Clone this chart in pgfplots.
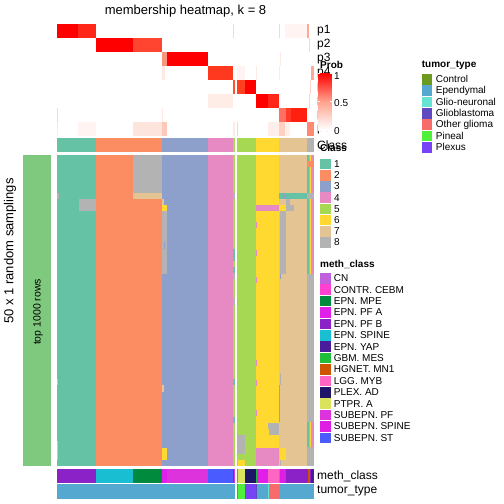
\documentclass[border=0pt]{standalone}
\usepackage{fontspec}
\setmainfont{Liberation Sans}
\usepackage{pgfplots}
\pgfplotsset{compat=1.18}
% class colours
\definecolor{c1}{HTML}{66C2A5}\definecolor{c2}{HTML}{FC8D62}\definecolor{c3}{HTML}{8DA0CB}
\definecolor{c4}{HTML}{E78AC3}\definecolor{c5}{HTML}{A6D854}\definecolor{c6}{HTML}{FFD92F}
\definecolor{c7}{HTML}{E5C494}\definecolor{c8}{HTML}{B3B3B3}\definecolor{lg}{HTML}{7FC97F}
% tumor type
\definecolor{tControl}{HTML}{6B9A1E}\definecolor{tEpen}{HTML}{55A8CF}\definecolor{tGlioN}{HTML}{66E3D2}
\definecolor{tGBM}{HTML}{5F4BBF}\definecolor{tOther}{HTML}{F86B6B}\definecolor{tPineal}{HTML}{50F03A}
\definecolor{tPlexus}{HTML}{7743F5}
% meth class
\definecolor{mCN}{HTML}{C060DA}\definecolor{mCEBM}{HTML}{FF40D0}\definecolor{mMPE}{HTML}{008A3E}
\definecolor{mPFA}{HTML}{E020E8}\definecolor{mPFB}{HTML}{8B22C8}\definecolor{mSPINE}{HTML}{19BED3}
\definecolor{mYAP}{HTML}{4A1C9C}\definecolor{mMES}{HTML}{1EBE3A}\definecolor{mMN1}{HTML}{CD5500}
\definecolor{mMYB}{HTML}{FF66C4}\definecolor{mPLEX}{HTML}{1E1468}\definecolor{mPTPR}{HTML}{DBE35C}
\definecolor{mSPF}{HTML}{DD33DD}\definecolor{mSSPINE}{HTML}{DE1EE2}\definecolor{mSST}{HTML}{4A5CFF}
% membership shades
\definecolor{pA}{HTML}{FF0000}\definecolor{pB}{HTML}{FF2818}\definecolor{pC}{HTML}{FF4530}
\definecolor{pD}{HTML}{FF3820}\definecolor{pE}{HTML}{FF5030}\definecolor{pF}{HTML}{FF4020}
\definecolor{pG}{HTML}{FF7060}\definecolor{pH}{HTML}{FF3A28}\definecolor{pI}{HTML}{FF2010}
\definecolor{pJ}{HTML}{FF8A70}\definecolor{pK}{HTML}{F8957D}\definecolor{lA}{HTML}{FFA896}
\definecolor{lB}{HTML}{FFD3C8}\definecolor{lC}{HTML}{FFE9E3}\definecolor{lD}{HTML}{FFF4F1}
\definecolor{lE}{HTML}{FDEDE6}\definecolor{lF}{HTML}{FDE4DC}\definecolor{lG}{HTML}{FCC8B8}
\definecolor{lH}{HTML}{FFEEEA}\definecolor{lI}{HTML}{FFD0C0}
\newcommand{\R}[5]{\addplot[draw=none,fill=#1,forget plot] coordinates {(#2,#4) (#3,#4) (#3,#5) (#2,#5)};}
\newcommand{\T}[4][west]{\node[anchor=#1,inner sep=0pt,font=#2] at (axis cs:#3) {#4};}
\newcommand{\fs}[1]{\fontsize{#1}{#1}\selectfont}
\begin{document}
\begin{tikzpicture}
\begin{axis}[hide axis, scale only axis, width=504pt, height=504pt,
  xmin=0, xmax=504, ymin=0, ymax=504, y dir=reverse, clip=false,
  colormap={wr}{rgb255=(255,255,255) rgb255=(255,162,140) rgb255=(255,0,0)},
  point meta min=0, point meta max=1]
\addplot[draw=none,forget plot] coordinates {(0,0) (504,504)};
% ---------------- membership heatmap (rows p1..p8) ----------------
% p1 24-38
\R{pB}{57}{96}{24}{38} \R{pA}{57}{78}{24}{38}
\R{lB}{232.5}{233.3}{24}{38} \R{lB}{279}{280}{24}{38} \R{lD}{285}{307}{24}{38} \R{lA}{307}{309}{24}{38}
% p2 38-52
\R{pC}{96}{162}{38}{52} \R{pA}{96}{133}{38}{52} \R{lB}{309}{310}{38}{52}
% p3 52-66
\R{pK}{162}{166.7}{52}{66} \R{pA}{166.7}{208}{52}{66} \R{lC}{280}{281}{52}{66}
% p4 66-80
\R{lC}{162}{164.7}{66}{80} \R{pD}{208}{233.3}{66}{80} \R{lD}{236.5}{245}{66}{80}
\R{lC}{256}{257}{66}{80} \R{lC}{279}{280}{66}{80} \R{lA}{311}{314}{66}{80}
% p5 80-94
\R{pE}{233.3}{235}{80}{94} \R{pF}{236.5}{256}{80}{94} \R{pA}{245}{256}{80}{94} \R{lB}{310}{311}{80}{94}
% p6 94-108
\R{lE}{208}{233.3}{94}{108} \R{pB}{256}{279}{94}{108} \R{pA}{256}{268}{94}{108} \R{lB}{309}{310}{94}{108}
% p7 108-122
\R{lB}{57}{58}{108}{122} \R{lC}{162}{163}{108}{122}
\R{pG}{279}{307}{108}{122} \R{pH}{286}{307}{108}{122} \R{pI}{291.3}{307}{108}{122}
% p8 122-136
\R{lC}{57}{58}{122}{136} \R{lD}{78}{96}{122}{136} \R{lF}{133}{162}{122}{136} \R{lG}{162}{166.7}{122}{136}
\R{lC}{233.3}{235}{122}{136} \R{lB}{236.5}{238}{122}{136} \R{lH}{268}{279}{122}{136}
\R{lI}{279}{285}{122}{136} \R{lH}{285}{290}{122}{136} \R{pJ}{307}{314}{122}{136}
% ---------------- Class bar 138-152 ----------------
\R{c1}{57}{314}{138}{152} \R{c2}{96}{314}{138}{152} \R{c3}{162}{314}{138}{152} \R{c4}{208}{314}{138}{152}
\R{c5}{233.3}{314}{138}{152} \R{c6}{256}{314}{138}{152} \R{c7}{279}{314}{138}{152} \R{c8}{307}{314}{138}{152}
% ---------------- main heatmap 155-465.7 ----------------
\R{lg}{23}{51}{155}{465.7}
\R{c1}{57}{314}{155}{465.7} \R{c2}{96}{314}{155}{465.7} \R{c3}{162}{314}{155}{465.7} \R{c4}{208}{314}{155}{465.7}
\R{c5}{233.3}{314}{155}{465.7} \R{c6}{256}{314}{155}{465.7} \R{c7}{279}{314}{155}{465.7} \R{c8}{307}{314}{155}{465.7}
% class 1/2/3 deviations
\R{c8}{133}{162}{155}{192.7} \R{c7}{133}{162}{192.7}{199} \R{c8}{79}{96}{199}{211}
\R{c8}{57}{58.5}{193}{199} \R{c7}{57}{58}{379}{385} \R{c7}{57}{58}{441}{460}
\R{c7}{162}{164}{199}{205} \R{c6}{162}{166.7}{205}{211} \R{c8}{162}{166.7}{211}{274}
\R{c3}{164}{165}{242}{249} \R{c7}{162}{164}{385}{392} \R{c6}{162}{166.7}{447.7}{460}
% narrow column and class 5
\R{c8}{233.3}{238.3}{192.7}{199.3} \R{c1}{233.3}{235}{249}{260.7} \R{c1}{233.3}{235}{266.7}{272.7}
\R{c8}{233.3}{235}{272.7}{279} \R{c8}{233.3}{238.3}{297.7}{305} \R{c1}{233.3}{235}{379}{385}
\R{c1}{233.3}{235}{417}{423} \R{c8}{236.5}{245}{435}{454} \R{c6}{237.5}{245}{460}{465.7}
% class 6
\R{c4}{256}{279}{205}{211} \R{c4}{256}{257}{222}{228} \R{c4}{256}{257}{250}{256} \R{c4}{256}{257}{277}{283}
\R{c4}{256}{257}{360}{366} \R{c4}{256}{257}{380}{386} \R{c4}{256}{257}{410}{416}
\R{c8}{268}{279}{422.7}{429} \R{c8}{269}{279}{429}{435} \R{c4}{256}{279}{447.7}{465.7}
% class 7
\R{c1}{279}{307}{193.3}{199.3} \R{c3}{283}{286}{193.3}{199.3} \R{c8}{286}{290}{199.3}{205}
\R{c6}{279}{286}{205}{211} \R{c8}{286}{294}{205}{211} \R{c8}{280}{286}{211}{274}
\R{c3}{280}{281}{274}{279} \R{c8}{280}{281}{373}{385} \R{c1}{279}{280}{385}{422}
\R{c6}{280}{286}{447.7}{460} \R{c8}{280}{281}{460}{465.7}
% class 8 column
\R{c1}{307}{308.7}{155}{274} \R{c6}{309.8}{310.6}{155}{274} \R{c4}{311}{314}{155}{274}
\R{c2}{307}{314}{161}{167} \R{c8}{307}{314}{193}{199}
\R{c1}{307}{309}{422}{447} \R{c6}{309.7}{310.7}{422}{447} \R{c4}{311}{314}{422}{447}
% ---------------- meth_class 469-483 ----------------
\R{mPFB}{57}{314}{469}{483} \R{mSPINE}{96}{314}{469}{483} \R{mMPE}{133}{314}{469}{483}
\R{mPFA}{162}{314}{469}{483} \R{mSPF}{166.7}{314}{469}{483} \R{mSST}{208}{314}{469}{483}
\R{mPFB}{233}{314}{469}{483} \R{mSPF}{234.2}{314}{469}{483} \R{mCN}{236.5}{314}{469}{483}
\R{mPTPR}{238.3}{314}{469}{483} \R{mPLEX}{245}{314}{469}{483} \R{mMES}{256}{314}{469}{483}
\R{mPFA}{257}{314}{469}{483} \R{mMYB}{268.3}{314}{469}{483} \R{mCN}{279}{314}{469}{483}
\R{mSSPINE}{280}{314}{469}{483} \R{mPFB}{286}{314}{469}{483} \R{mMN1}{308.3}{309.7}{469}{483}
\R{mYAP}{311}{314}{469}{483}
% ---------------- tumor_type 484-498.5 ----------------
\R{tEpen}{57}{314}{484}{498.5} \R{tControl}{236.5}{314}{484}{498.5} \R{tPineal}{238}{314}{484}{498.5}
\R{tPlexus}{245}{314}{484}{498.5} \R{tGBM}{256}{314}{484}{498.5} \R{tEpen}{257}{314}{484}{498.5}
\R{tGlioN}{268.3}{314}{484}{498.5} \R{tOther}{269.3}{314}{484}{498.5} \R{tEpen}{279.3}{314}{484}{498.5}
\R{tOther}{309}{310}{484}{498.5}
% column gap
\R{white}{235}{236.5}{138}{499}
% ---------------- texts ----------------
\T[center]{\fs{13}}{185.5,11}{membership heatmap, k = 8}
\T{\fs{12}}{317,31}{p1} \T{\fs{12}}{317,45}{p2} \T{\fs{12}}{317,59}{p3} \T{\fs{12}}{317,73}{p4}
\T{\fs{12}}{317,87}{p5} \T{\fs{12}}{317,101}{p6} \T{\fs{12}}{317,115}{p7} \T{\fs{12}}{317,129}{p8}
\T{\fs{12}}{317,145}{Class}
\T{\fs{12}}{317,476}{meth\_class} \T{\fs{12}}{317,491}{tumor\_type}
\node[rotate=90,inner sep=0pt,font=\fs{13}] at (axis cs:10,251) {50 x 1 random samplings};
\node[rotate=90,inner sep=0pt,font=\fs{10.5}] at (axis cs:38,312) {top 1000 rows};
% ---------------- Prob legend ----------------
\T{\fs{10}\bfseries}{320,65}{Prob}
\addplot[patch, patch type=rectangle, shader=interp, point meta=explicit, forget plot]
  coordinates {(318.3,130) [0] (331.7,130) [0] (331.7,72.7) [1] (318.3,72.7) [1]};
\addplot[white, line width=0.7pt, forget plot] coordinates {(318.3,101.4) (320.3,101.4)};
\addplot[white, line width=0.7pt, forget plot] coordinates {(329.7,101.4) (331.7,101.4)};
\addplot[white, line width=0.7pt, forget plot] coordinates {(318.3,73.2) (320.3,73.2)};
\addplot[white, line width=0.7pt, forget plot] coordinates {(329.7,73.2) (331.7,73.2)};
\T{\fs{10}}{334,76}{1} \T{\fs{10}}{334,103}{0.5} \T{\fs{10}}{334,131}{0}
% ---------------- Class legend ----------------
\T{\fs{10}\bfseries}{320,148}{Class}
\R{c1}{320}{330.7}{158.7}{169.3} \R{c2}{320}{330.7}{169.9}{180.5} \R{c3}{320}{330.7}{181.1}{191.7}
\R{c4}{320}{330.7}{192.3}{202.9} \R{c5}{320}{330.7}{203.5}{214.1} \R{c6}{320}{330.7}{214.7}{225.3}
\R{c7}{320}{330.7}{225.9}{236.5} \R{c8}{320}{330.7}{237.1}{247.7}
\T{\fs{10}}{334,164}{1} \T{\fs{10}}{334,175.2}{2} \T{\fs{10}}{334,186.4}{3} \T{\fs{10}}{334,197.6}{4}
\T{\fs{10}}{334,208.8}{5} \T{\fs{10}}{334,220}{6} \T{\fs{10}}{334,231.2}{7} \T{\fs{10}}{334,242.4}{8}
% ---------------- tumor_type legend ----------------
\T{\fs{10}\bfseries}{421.7,65}{tumor\_type}
\R{tControl}{421.7}{432.3}{74}{84.6} \R{tEpen}{421.7}{432.3}{85.3}{95.9} \R{tGlioN}{421.7}{432.3}{96.7}{107.3}
\R{tGBM}{421.7}{432.3}{108}{118.6} \R{tOther}{421.7}{432.3}{119.3}{129.9} \R{tPineal}{421.7}{432.3}{130.7}{141.3}
\R{tPlexus}{421.7}{432.3}{142}{152.6}
\T{\fs{10}}{435.7,79.3}{Control} \T{\fs{10}}{435.7,90.6}{Ependymal} \T{\fs{10}}{435.7,102}{Glio-neuronal}
\T{\fs{10}}{435.7,113.3}{Glioblastoma} \T{\fs{10}}{435.7,124.6}{Other glioma} \T{\fs{10}}{435.7,136}{Pineal}
\T{\fs{10}}{435.7,147.3}{Plexus}
% ---------------- meth_class legend ----------------
\T{\fs{10}\bfseries}{320,264}{meth\_class}
\R{mCN}{320}{330.7}{273}{283.6} \R{mCEBM}{320}{330.7}{284.4}{295} \R{mMPE}{320}{330.7}{295.8}{306.4}
\R{mPFA}{320}{330.7}{307.2}{317.8} \R{mPFB}{320}{330.7}{318.6}{329.2} \R{mSPINE}{320}{330.7}{330}{340.6}
\R{mYAP}{320}{330.7}{341.3}{351.9} \R{mMES}{320}{330.7}{352.7}{363.3} \R{mMN1}{320}{330.7}{364.1}{374.7}
\R{mMYB}{320}{330.7}{375.5}{386.1} \R{mPLEX}{320}{330.7}{386.9}{397.5} \R{mPTPR}{320}{330.7}{398.3}{408.9}
\R{mSPF}{320}{330.7}{409.7}{420.3} \R{mSSPINE}{320}{330.7}{421.1}{431.7} \R{mSST}{320}{330.7}{432.5}{443.1}
\T{\fs{10}}{333.7,278.3}{CN} \T{\fs{10}}{333.7,289.7}{CONTR. CEBM} \T{\fs{10}}{333.7,301.1}{EPN. MPE}
\T{\fs{10}}{333.7,312.5}{EPN. PF A} \T{\fs{10}}{333.7,323.9}{EPN. PF B} \T{\fs{10}}{333.7,335.3}{EPN. SPINE}
\T{\fs{10}}{333.7,346.6}{EPN. YAP} \T{\fs{10}}{333.7,358}{GBM. MES} \T{\fs{10}}{333.7,369.4}{HGNET. MN1}
\T{\fs{10}}{333.7,380.8}{LGG. MYB} \T{\fs{10}}{333.7,392.2}{PLEX. AD} \T{\fs{10}}{333.7,403.6}{PTPR. A}
\T{\fs{10}}{333.7,415}{SUBEPN. PF} \T{\fs{10}}{333.7,426.4}{SUBEPN. SPINE} \T{\fs{10}}{333.7,437.8}{SUBEPN. ST}
\end{axis}
\end{tikzpicture}
\end{document}
